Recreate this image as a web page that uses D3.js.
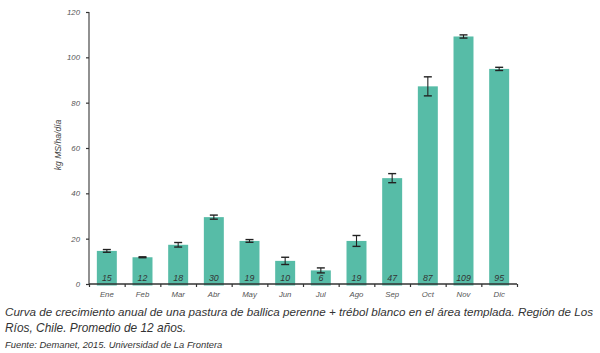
<!DOCTYPE html>
<html><head><meta charset="utf-8">
<script src="https://cdn.jsdelivr.net/npm/d3@7"></script>
<style>body{margin:0;background:#fff}svg{display:block}</style>
</head><body>
<svg id="c" width="600" height="353"></svg>
<script>
const months = ["Ene","Feb","Mar","Abr","May","Jun","Jul","Ago","Sep","Oct","Nov","Dic"];
const values = [14.6,11.8,17.3,29.5,19.0,10.2,6.0,19.0,46.7,87.2,109.2,94.9];
const errors = [0.6,0.2,1.0,0.9,0.6,1.6,1.1,2.4,2.0,4.2,0.7,0.7];
const labels = ["15","12","18","30","19","10","6","19","47","87","109","95"];
const yTicks = [0,20,40,60,80,100,120];
const yTitle = "kg MS/ha/día";
const caption1 = "Curva de crecimiento anual de una pastura de ballica perenne + trébol blanco en el área templada. Región de Los";
const caption2 = "Ríos, Chile. Promedio de 12 años.";
const source = "Fuente: Demanet, 2015. Universidad de La Frontera";

const svg = d3.select("#c");
const font = "'Liberation Sans', Arial, sans-serif";
const x0 = 89, x1 = 517, yTop = 12, yBot = 284;
const x = d3.scaleBand().domain(months).range([x0, x1]).paddingInner(0.44).paddingOuter(0.22);
const xb = d3.scaleLinear().domain([0,12]).range([x0,x1]);
const y = d3.scaleLinear().domain([0,120]).range([yBot, yTop]);

// bars
svg.selectAll("rect.bar").data(values).join("rect")
  .attr("x",(d,i)=>x(months[i])).attr("width",x.bandwidth())
  .attr("y",d=>y(d)).attr("height",d=>y(0)-y(d)+1.5)
  .attr("fill","#57bca7");

// error bars
const eb = svg.append("g").attr("stroke","#222").attr("stroke-width",1.1);
values.forEach((v,i)=>{
  const cx = x(months[i]) + x.bandwidth()/2;
  eb.append("line").attr("x1",cx).attr("x2",cx).attr("y1",y(v+errors[i])).attr("y2",y(v-errors[i]));
  [v+errors[i], v-errors[i]].forEach(e=>{
    eb.append("line").attr("x1",cx-4).attr("x2",cx+4).attr("y1",y(e)).attr("y2",y(e)).attr("stroke-width",1.4);
  });
});

// value labels
svg.selectAll("text.val").data(labels).join("text")
  .attr("x",(d,i)=>x(months[i])+x.bandwidth()/2).attr("y",281)
  .attr("text-anchor","middle").attr("font-family",font).attr("font-style","italic")
  .attr("font-size",8.8).attr("fill","#333").text(d=>d);

// y axis
const ya = svg.append("g").attr("transform",`translate(${x0},0)`)
  .call(d3.axisLeft(y).tickValues(yTicks).tickSize(3).tickPadding(6));
ya.select(".domain").attr("stroke","#555").attr("stroke-width",1.3).attr("d",`M0,${yTop}V${yBot}`);
ya.selectAll(".tick line").attr("stroke","#333").attr("stroke-width",1.2);
ya.selectAll("text").attr("font-family",font).attr("font-style","italic").attr("font-size",7.8).attr("fill","#555");

// x axis
const xa = svg.append("g").attr("transform",`translate(0,${yBot})`)
  .call(d3.axisBottom(xb).tickValues(d3.range(0,13)).tickSize(3).tickFormat(""));
xa.select(".domain").attr("stroke","#333").attr("stroke-width",1.3).attr("d",`M${x0},0H${x1}`);
xa.selectAll(".tick line").attr("stroke","#333").attr("stroke-width",1.2);
svg.append("g").selectAll("text").data(months).join("text")
  .attr("x",d=>x(d)+x.bandwidth()/2).attr("y",297)
  .attr("text-anchor","middle").attr("font-family",font).attr("font-style","italic")
  .attr("font-size",7.8).attr("fill","#555").text(d=>d);

// y title
svg.append("text").attr("transform","translate(61,145) rotate(-90)")
  .attr("text-anchor","middle").attr("font-family",font).attr("font-style","italic")
  .attr("font-size",8.6).attr("fill","#444").text(yTitle);

// caption
svg.append("text").attr("x",5).attr("y",316).attr("font-family",font).attr("font-style","italic")
  .attr("font-size",11.6).attr("fill","#333").attr("textLength",588).attr("lengthAdjust","spacingAndGlyphs").text(caption1);
svg.append("text").attr("x",5).attr("y",332).attr("font-family",font).attr("font-style","italic")
  .attr("font-size",11.9).attr("fill","#333").text(caption2);
svg.append("text").attr("x",5).attr("y",348).attr("font-family",font).attr("font-style","italic")
  .attr("font-size",9.4).attr("fill","#333").text(source);
</script>
</body></html>
